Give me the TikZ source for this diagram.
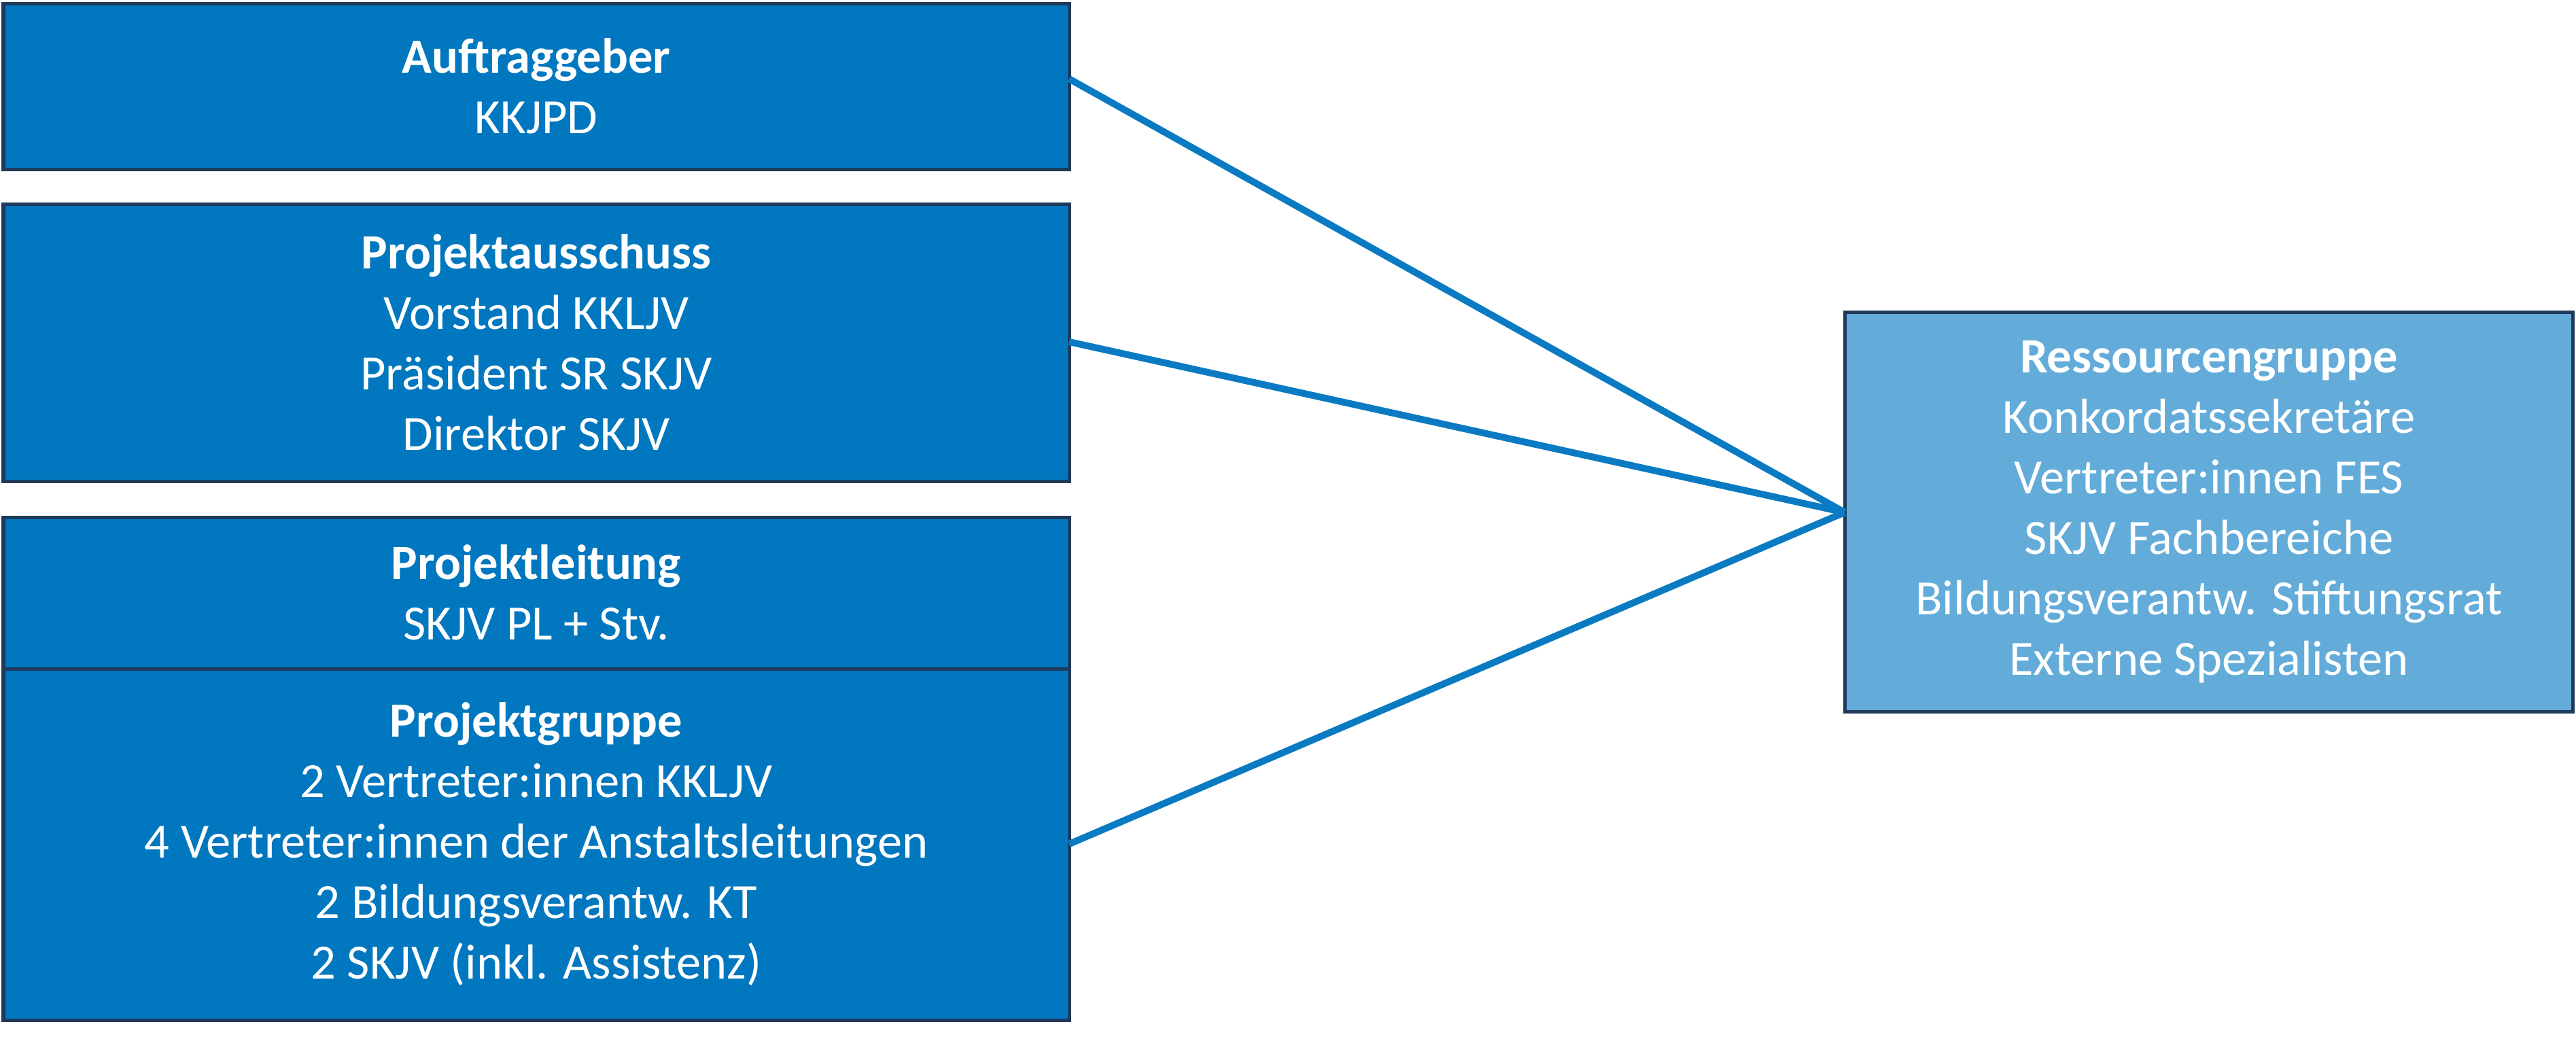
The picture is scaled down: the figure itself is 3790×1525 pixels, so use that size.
\documentclass[tikz,border=0pt]{standalone}
\usepackage{fontspec}
\setmainfont{Carlito}
\definecolor{boxblue}{HTML}{0077BE}
\definecolor{lightblue}{HTML}{63ACD9}
\definecolor{edge}{HTML}{1F3A5A}
\definecolor{linec}{HTML}{0A7BC2}
\begin{document}
\begin{tikzpicture}[x=0.2pt,y=-0.2pt,
  bx/.style={draw=edge,line width=1pt,fill=boxblue},
  txt/.style={text=white,align=center,font=\fontsize{14.5}{17.8}\selectfont},
  conn/.style={draw=linec,line width=2pt}]
\useasboundingbox (0,0) rectangle (3790,1525);
\draw[bx] (5,5) rectangle (1573,249);
\draw[bx] (5,300) rectangle (1573,708);
\draw[bx] (5,761) rectangle (1573,984);
\draw[bx] (5,984) rectangle (1573,1501);
\draw[bx,fill=lightblue] (2714,459) rectangle (3785,1047);
\node[txt] (a) at (789,127) {\textbf{Auftraggeber}\\KKJPD};
\node[txt] (b) at (789,504) {\textbf{Projektausschuss}\\Vorstand KKLJV\\Präsident SR SKJV\\Direktor SKJV};
\node[txt] (c) at (789,872) {\textbf{Projektleitung}\\SKJV PL + Stv.};
\node[txt] (d) at (789,1242) {\textbf{Projektgruppe}\\2 Vertreter:innen KKLJV\\4 Vertreter:innen der Anstaltsleitungen\\2 Bildungsverantw. KT\\2 SKJV (inkl. Assistenz)};
\node[txt] (r) at (3250,753) {\textbf{Ressourcengruppe}\\Konkordatssekretäre\\Vertreter:innen FES\\SKJV Fachbereiche\\Bildungsverantw. Stiftungsrat\\Externe Spezialisten};
\coordinate (a1) at (1573,116);
\coordinate (b1) at (1573,503);
\coordinate (d1) at (1573,1242);
\coordinate (r1) at (2714,754);
\draw[conn] (a1) -- (r1);
\draw[conn] (b1) -- (r1);
\draw[conn] (d1) -- (r1);
\end{tikzpicture}
\end{document}
